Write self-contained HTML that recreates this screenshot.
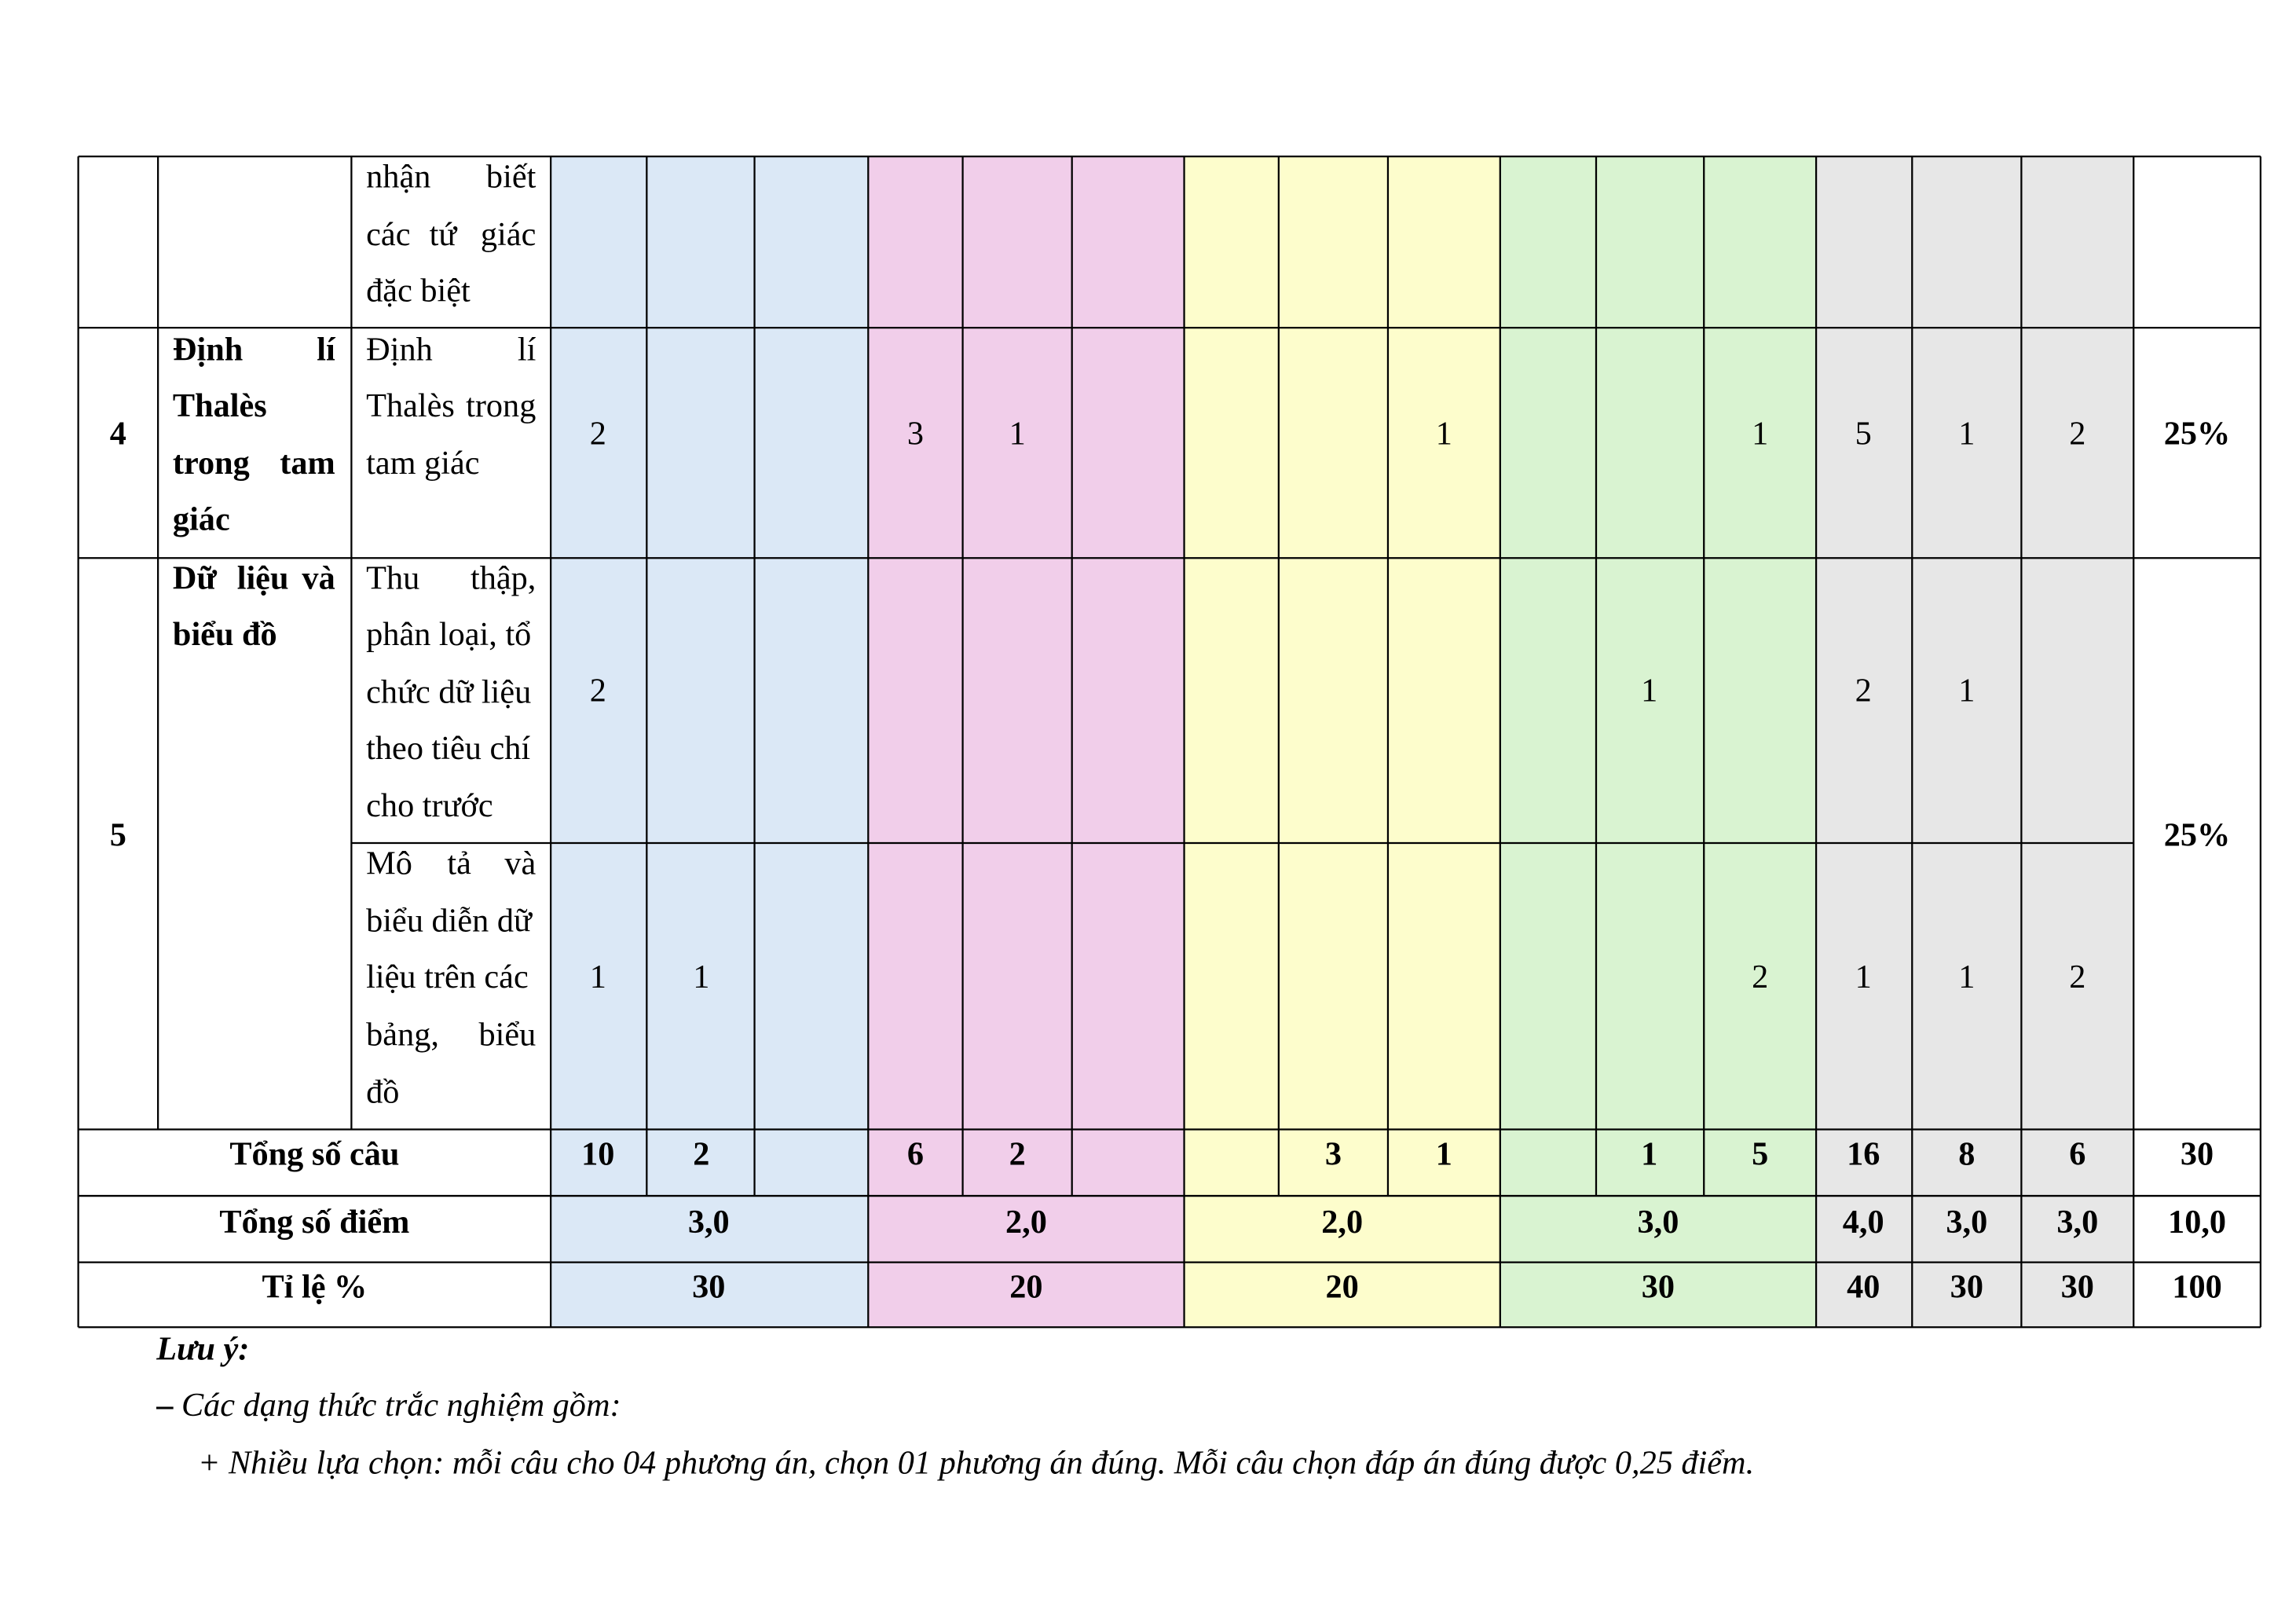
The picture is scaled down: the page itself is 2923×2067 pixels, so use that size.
<!DOCTYPE html>
<html><head><meta charset="utf-8"><style>
html,body{margin:0;padding:0;background:#fff;width:2923px;height:2067px;overflow:hidden}
svg{display:block}
text{font-family:"Liberation Serif",serif;font-size:22.5px;fill:#000}
.b{font-weight:bold}
.c{text-anchor:middle}
.e{text-anchor:end}
</style></head><body>
<svg width="2923" height="2067" viewBox="0 0 1555 1100" preserveAspectRatio="none">
<rect x="373" y="106" width="215" height="793" fill="#dbe8f6"/>
<rect x="588" y="106" width="214" height="793" fill="#f1ceea"/>
<rect x="802" y="106" width="214" height="793" fill="#fdfdcc"/>
<rect x="1016" y="106" width="214" height="793" fill="#d9f3d1"/>
<rect x="1230" y="106" width="215" height="793" fill="#e7e7e7"/>
<g stroke="#000" stroke-width="1.2">
<line x1="53" y1="106" x2="1531" y2="106"/>
<line x1="53" y1="222" x2="1531" y2="222"/>
<line x1="53" y1="378" x2="1531" y2="378"/>
<line x1="238" y1="571" x2="1445" y2="571"/>
<line x1="53" y1="765" x2="1531" y2="765"/>
<line x1="53" y1="810" x2="1531" y2="810"/>
<line x1="53" y1="855" x2="1531" y2="855"/>
<line x1="53" y1="899" x2="1531" y2="899"/>
<line x1="53" y1="106" x2="53" y2="899"/>
<line x1="1531" y1="106" x2="1531" y2="899"/>
<line x1="107" y1="106" x2="107" y2="765"/>
<line x1="238" y1="106" x2="238" y2="765"/>
<line x1="373" y1="106" x2="373" y2="899"/>
<line x1="438" y1="106" x2="438" y2="810"/>
<line x1="511" y1="106" x2="511" y2="810"/>
<line x1="588" y1="106" x2="588" y2="899"/>
<line x1="652" y1="106" x2="652" y2="810"/>
<line x1="726" y1="106" x2="726" y2="810"/>
<line x1="802" y1="106" x2="802" y2="899"/>
<line x1="866" y1="106" x2="866" y2="810"/>
<line x1="940" y1="106" x2="940" y2="810"/>
<line x1="1016" y1="106" x2="1016" y2="899"/>
<line x1="1081" y1="106" x2="1081" y2="810"/>
<line x1="1154" y1="106" x2="1154" y2="810"/>
<line x1="1230" y1="106" x2="1230" y2="899"/>
<line x1="1295" y1="106" x2="1295" y2="899"/>
<line x1="1369" y1="106" x2="1369" y2="899"/>
<line x1="1445" y1="106" x2="1445" y2="899"/>
</g>
<text x="248" y="127">nhận</text><text x="363" y="127" class="e">biết</text>
<text x="248" y="166">các</text><text x="300" y="166" class="c">tứ</text><text x="363" y="166" class="e">giác</text>
<text x="248" y="204">đặc biệt</text>
<text x="80" y="301" class="b c">4</text>
<text x="117" y="244" class="b">Định</text><text x="227" y="244" class="b e">lí</text>
<text x="117" y="282" class="b">Thalès</text>
<text x="117" y="321" class="b">trong</text><text x="227" y="321" class="b e">tam</text>
<text x="117" y="359" class="b">giác</text>
<text x="248" y="244">Định</text><text x="363" y="244" class="e">lí</text>
<text x="248" y="282">Thalès</text><text x="363" y="282" class="e">trong</text>
<text x="248" y="321">tam giác</text>
<text x="405" y="301" class="c">2</text>
<text x="620" y="301" class="c">3</text>
<text x="689" y="301" class="c">1</text>
<text x="978" y="301" class="c">1</text>
<text x="1192" y="301" class="c">1</text>
<text x="1262" y="301" class="c">5</text>
<text x="1332" y="301" class="c">1</text>
<text x="1407" y="301" class="c">2</text>
<text x="1488" y="301" class="c b">25%</text>
<text x="80" y="573" class="b c">5</text>
<text x="117" y="399" class="b">Dữ</text><text x="178" y="399" class="b c">liệu</text><text x="227" y="399" class="b e">và</text>
<text x="117" y="437" class="b">biểu đồ</text>
<text x="248" y="399">Thu</text><text x="363" y="399" class="e">thập,</text>
<text x="248" y="437">phân loại, tổ</text>
<text x="248" y="476">chức dữ liệu</text>
<text x="248" y="514">theo tiêu chí</text>
<text x="248" y="553">cho trước</text>
<text x="248" y="592">Mô</text><text x="311" y="592" class="c">tả</text><text x="363" y="592" class="e">và</text>
<text x="248" y="631">biểu diễn dữ</text>
<text x="248" y="669">liệu trên các</text>
<text x="248" y="708">bảng,</text><text x="363" y="708" class="e">biểu</text>
<text x="248" y="747">đồ</text>
<text x="405" y="475" class="c">2</text>
<text x="1117" y="475" class="c">1</text>
<text x="1262" y="475" class="c">2</text>
<text x="1332" y="475" class="c">1</text>
<text x="1488" y="573" class="c b">25%</text>
<text x="405" y="669" class="c">1</text>
<text x="475" y="669" class="c">1</text>
<text x="1192" y="669" class="c">2</text>
<text x="1262" y="669" class="c">1</text>
<text x="1332" y="669" class="c">1</text>
<text x="1407" y="669" class="c">2</text>
<text x="213" y="789" class="c b">Tổng số câu</text>
<text x="405" y="789" class="c b">10</text>
<text x="475" y="789" class="c b">2</text>
<text x="620" y="789" class="c b">6</text>
<text x="689" y="789" class="c b">2</text>
<text x="903" y="789" class="c b">3</text>
<text x="978" y="789" class="c b">1</text>
<text x="1117" y="789" class="c b">1</text>
<text x="1192" y="789" class="c b">5</text>
<text x="1262" y="789" class="c b">16</text>
<text x="1332" y="789" class="c b">8</text>
<text x="1407" y="789" class="c b">6</text>
<text x="1488" y="789" class="c b">30</text>
<text x="213" y="835" class="c b">Tổng số điểm</text>
<text x="480" y="835" class="c b">3,0</text>
<text x="695" y="835" class="c b">2,0</text>
<text x="909" y="835" class="c b">2,0</text>
<text x="1123" y="835" class="c b">3,0</text>
<text x="1262" y="835" class="c b">4,0</text>
<text x="1332" y="835" class="c b">3,0</text>
<text x="1407" y="835" class="c b">3,0</text>
<text x="1488" y="835" class="c b">10,0</text>
<text x="213" y="879" class="c b">Tỉ lệ %</text>
<text x="480" y="879" class="c b">30</text>
<text x="695" y="879" class="c b">20</text>
<text x="909" y="879" class="c b">20</text>
<text x="1123" y="879" class="c b">30</text>
<text x="1262" y="879" class="c b">40</text>
<text x="1332" y="879" class="c b">30</text>
<text x="1407" y="879" class="c b">30</text>
<text x="1488" y="879" class="c b">100</text>
<text x="106" y="921" font-style="italic" font-weight="bold">Lưu ý:</text>
<text x="106" y="959" font-style="italic"><tspan font-weight="bold" font-style="normal">–</tspan> Các dạng thức trắc nghiệm gồm:</text>
<text x="134" y="998" font-style="italic">+ Nhiều lựa chọn: mỗi câu cho 04 phương án, chọn 01 phương án đúng. Mỗi câu chọn đáp án đúng được 0,25 điểm.</text>
</svg>
</body></html>
